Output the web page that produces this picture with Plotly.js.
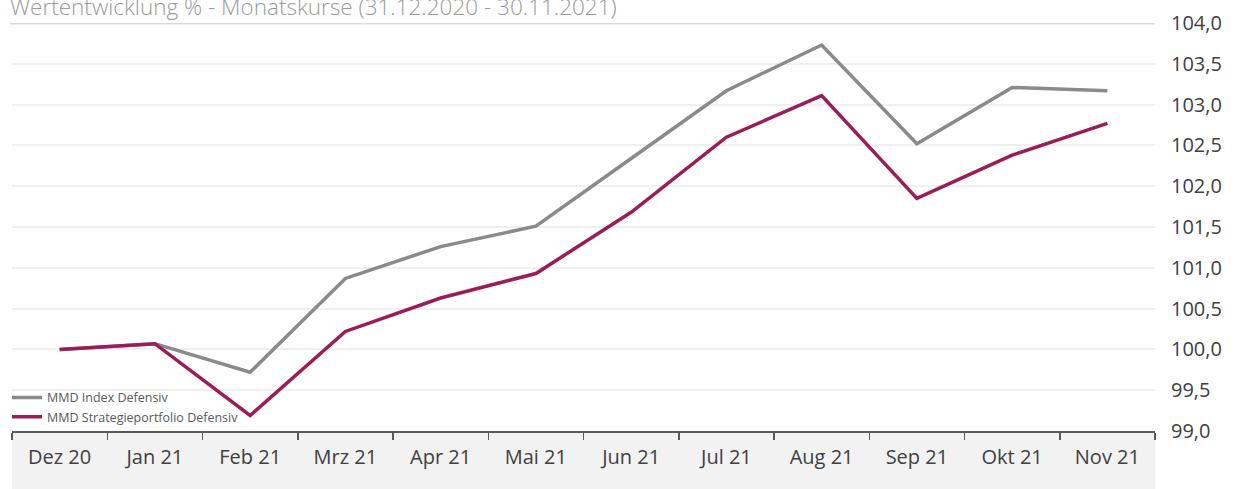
<!DOCTYPE html>
<html>
<head>
<meta charset="utf-8">
<script src="https://cdn.plot.ly/plotly-3.0.1.min.js"></script>
<style>html,body{margin:0;padding:0;background:#fff;}#chart{width:1236px;height:489px;}</style>
</head>
<body>
<div id="chart"></div>
<script>
const categories = ["Dez 20","Jan 21","Feb 21","Mrz 21","Apr 21","Mai 21","Jun 21","Jul 21","Aug 21","Sep 21","Okt 21","Nov 21"];
const indexDefensiv = [100.00,100.07,99.72,100.87,101.26,101.51,102.34,103.17,103.73,102.52,103.21,103.17];
const strategieDefensiv = [100.00,100.07,99.19,100.22,100.63,100.93,101.68,102.60,103.11,101.85,102.38,102.77];
const yTicks = [99,99.5,100,100.5,101,101.5,102,102.5,103,103.5,104];
const titleText = "Wertentwicklung % - Monatskurse (31.12.2020 - 30.11.2021)";

const FONT = "Open Sans, Noto Sans, sans-serif";

const traces = [
  {x: categories, y: indexDefensiv, name: "MMD Index Defensiv", type: "scatter", mode: "lines",
   line: {color: "#8a8a8a", width: 3.5}},
  {x: categories, y: strategieDefensiv, name: "MMD Strategieportfolio Defensiv", type: "scatter", mode: "lines",
   line: {color: "#9b1d56", width: 3.5}}
];

const layout = {
  width: 1236, height: 489,
  margin: {l: 12, r: 81, t: 23, b: 58, autoexpand: false},
  paper_bgcolor: "#ffffff", plot_bgcolor: "rgba(0,0,0,0)",
  font: {family: FONT, color: "#404040"},
  title: {text: titleText, x: 10/1236, xanchor: "left", xref: "container",
          y: 1 - 7/489, yanchor: "middle", yref: "container",
          font: {family: FONT, size: 22.5, color: "#9a9a9a", weight: 300}},
  showlegend: true,
  legend: {x: -5/1143, xanchor: "left", y: 0.118, yanchor: "top", bgcolor: "rgba(0,0,0,0)",
           font: {family: FONT, size: 12.5, color: "#595959"}, itemwidth: 30, tracegroupgap: 0},
  xaxis: {type: "category", range: [-0.5, 11.5], tickson: "boundaries", ticks: "outside", ticklen: 7,
          tickcolor: "#595959", tickwidth: 1.5, showline: true, linecolor: "#595959", linewidth: 1.5,
          showgrid: false, zeroline: false, fixedrange: true, ticklabelstandoff: 7, automargin: false,
          tickfont: {family: FONT, size: 20, color: "#404040"}},
  yaxis: {side: "right", range: [99, 104], tickvals: yTicks, tickformat: ".1f", showgrid: true,
          gridcolor: "#f0f0f0", gridwidth: 2, zeroline: false, showline: false, ticks: "", automargin: false,
          ticklabelstandoff: 15, tickfont: {family: FONT, size: 20, color: "#404040"}},
  separators: ",.",
  shapes: [
    {type: "rect", xref: "paper", yref: "paper", x0: 0, x1: 1, y0: -58/408, y1: 0,
     fillcolor: "#f2f2f2", line: {width: 0}, layer: "below"},
    {type: "line", xref: "paper", yref: "y", x0: -2/1143, x1: 1, y0: 104, y1: 104,
     line: {color: "#d9d9d9", width: 3}, layer: "below"}
  ]
};

Plotly.newPlot("chart", traces, layout, {displayModeBar: false, staticPlot: true});
</script>
</body>
</html>
